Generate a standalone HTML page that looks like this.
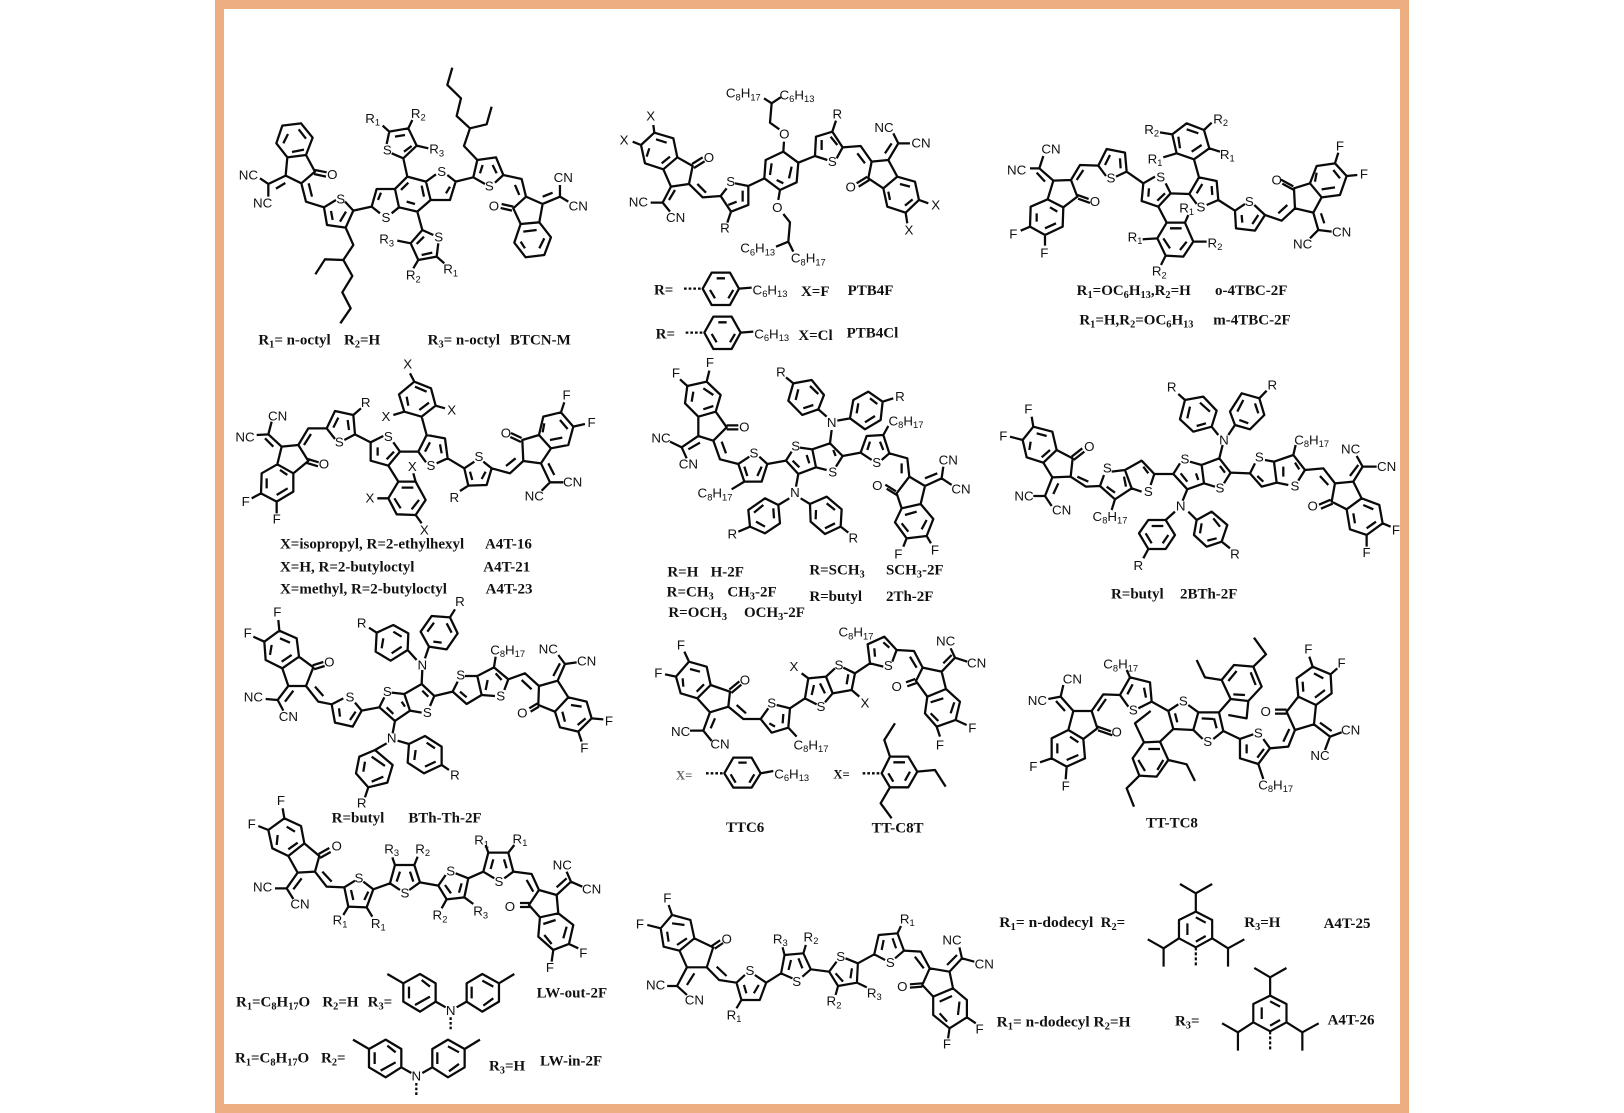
<!DOCTYPE html>
<html><head><meta charset="utf-8"><title>Molecules</title>
<style>
html,body{margin:0;padding:0;background:#fff}
svg{display:block}
path{fill:none;stroke:#0a0a0a;stroke-width:6.8;stroke-linejoin:round}
.d{stroke-dasharray:8 6}
.h path{stroke-width:2.2;vector-effect:non-scaling-stroke}
.h .d{stroke-dasharray:3 2}
text{fill:#111}
.t text,text.t{font-family:"Liberation Sans",sans-serif;font-size:40px;text-anchor:middle}
.u{font-size:28px}
.b{font-family:"Liberation Serif",serif;font-weight:bold;font-size:45px;text-anchor:start}
.b .u{font-size:31px}
</style></head><body>
<svg width="1624" height="1113" viewBox="0 0 1624 1113" xmlns="http://www.w3.org/2000/svg">
<rect width="1624" height="1113" fill="#fff"/>
<rect x="219.5" y="4.5" width="1185" height="1104" fill="none" stroke="#EDAE82" stroke-width="9"/>

<!-- BTCN-M -->
<g transform="translate(200 0) scale(.3333)">
<path d="M247 377L303 370L338 413L318 465L262 472L229 430ZM250 430L264 402M276 456L312 449M296 388L318 416M318 465L345 515L304 550L257 527L262 472M345 510L380 517M342 522L378 530M257 527L205 552M228 566L256 549M205 552L180 535M205 552L205 590M304 550L318 605L372 622M326 550L336 590M408 600L372 622L381 675L437 683L460 632L435 605M393 633L398 660M420 665L438 635M437 683L460 735L430 780L457 828L427 877L452 925L421 970M430 780L375 778L346 823M460 632L515 620M540 640L515 620L530 567L585 567L597 622L575 640M534 600L543 578M585 567L622 530L678 545L692 600L652 635L597 622M603 570L625 548M665 557L672 590M645 612L620 605M708 523L678 545M692 600L750 600L767 545L742 525M750 560L738 580M622 530L610 475L650 437L625 385L568 395L560 432M575 460L610 475M585 410L615 405M612 455L635 438M568 395L548 377M625 385L637 360M650 437L685 445M652 635L667 690L632 730L655 780L710 770L715 730M667 690L700 705M665 765L697 758M650 732L672 710M632 730L592 722M655 780L640 805M710 770L733 790M767 545L820 532L832 480L888 472L910 525L885 548M820 532L855 552M840 520L848 495M890 520L878 495M832 480L792 438L810 385L770 348L783 295L742 255L757 203M810 385L860 373L875 320M910 525L965 537L978 590M945 555L958 585M978 590L1028 612L1018 667L962 672L940 625L978 590M940 620L905 612M936 632L902 624M962 672L1018 667L1053 712L1033 765L977 772L943 728ZM970 695L1010 690M1033 715L1018 745M975 745L962 725M1028 612L1080 590M1028 590L1058 578M1080 590L1080 555M1080 590L1105 605"/>
<g class="t">
<text x="145" y="538">NC</text><text x="188" y="623">NC</text><text x="397" y="537">O</text><text x="422" y="611">S</text><text x="558" y="666">S</text><text x="725" y="528">S</text><text x="562" y="463">S</text><text x="716" y="725">S</text><text x="868" y="571">S</text><text x="882" y="631">O</text><text x="1090" y="546">CN</text><text x="1135" y="631">CN</text>
<text x="518" y="369">R<tspan class="u" dy="8">1</tspan></text><text x="655" y="354">R<tspan class="u" dy="8">2</tspan></text><text x="710" y="461">R<tspan class="u" dy="8">3</tspan></text><text x="560" y="731">R<tspan class="u" dy="8">3</tspan></text><text x="640" y="839">R<tspan class="u" dy="8">2</tspan></text><text x="752" y="821">R<tspan class="u" dy="8">1</tspan></text>
</g>
<text class="b" x="175" y="1033">R<tspan class="u" dy="9">1</tspan><tspan dy="-9">= n-octyl</tspan></text>
<text class="b" x="432" y="1033">R<tspan class="u" dy="9">2</tspan><tspan dy="-9">=H</tspan></text>
<text class="b" x="683" y="1033">R<tspan class="u" dy="9">3</tspan><tspan dy="-9">= n-octyl</tspan></text>
<text class="b" x="930" y="1033">BTCN-M</text>
</g>

<!-- PTB4F -->
<g transform="translate(620 60) scale(.3333)">
<path d="M103 218L160 235L172 292L130 328L75 310L63 255ZM108 238L140 248M150 290L125 310M80 290L88 265M103 218L100 195M63 255L38 245M172 292L218 318L207 372L153 380L130 328M216 312L248 292M222 324L254 304M153 380L128 428M147 420L165 390M128 428L92 428M128 428L150 455M207 372L248 412L302 408M232 372L258 398M320 385L302 408L333 455L385 435L385 378L345 370M368 392L368 425M325 435L350 425M333 455L322 488M385 378L433 355L480 390L530 367L535 308L490 275L437 300L433 355M455 310L450 345M515 320L507 355M470 360L490 370M490 275L492 245M478 208L450 188L455 130L482 112M455 130L432 115M480 390L475 420M490 462L510 487L505 545L520 575M505 545L468 560M535 308L585 288L588 230L637 215L668 262L650 295M585 288L622 300M605 270L605 240M652 255L632 230M637 215L648 182M668 262L722 258L755 305M712 280L735 310M755 305L805 300L832 350L790 385L745 355ZM742 350L710 370M748 360L716 380M805 300L835 250M795 280L815 250M835 250L820 220M835 250L870 250M832 350L885 365L897 420L857 458L802 440L790 385M840 372L870 380M878 418L855 437M810 420L805 395M897 420L925 430M857 458L862 490"/>
<path class="d" d="M192 686L248 686M197 818L253 818"/>
<path d="M248 686L275 638L330 638L357 686L330 735L275 735ZM290 655L315 655M340 690L325 715M270 690L285 715M357 686L395 683M253 818L280 770L335 770L362 818L335 867L280 867ZM295 787L320 787M345 822L330 847M275 822L290 847M362 818L400 815"/>
<g class="t">
<text x="92" y="181">X</text><text x="12" y="253">X</text><text x="267" y="306">O</text><text x="55" y="440">NC</text><text x="167" y="486">CN</text><text x="332" y="378">S</text><text x="315" y="518">R</text><text x="493" y="235">O</text><text x="472" y="456">O</text><text x="637" y="318">S</text><text x="652" y="176">R</text><text x="692" y="395">O</text><text x="792" y="216">NC</text><text x="903" y="263">CN</text><text x="947" y="448">X</text><text x="867" y="523">X</text>
<text x="370" y="113">C<tspan class="u" dy="8">8</tspan><tspan dy="-8">H</tspan><tspan class="u" dy="8">17</tspan></text>
<text x="531" y="118">C<tspan class="u" dy="8">6</tspan><tspan dy="-8">H</tspan><tspan class="u" dy="8">13</tspan></text>
<text x="413" y="578">C<tspan class="u" dy="8">6</tspan><tspan dy="-8">H</tspan><tspan class="u" dy="8">13</tspan></text>
<text x="565" y="608">C<tspan class="u" dy="8">8</tspan><tspan dy="-8">H</tspan><tspan class="u" dy="8">17</tspan></text>
<text x="450" y="703">C<tspan class="u" dy="8">6</tspan><tspan dy="-8">H</tspan><tspan class="u" dy="8">13</tspan></text>
<text x="455" y="835">C<tspan class="u" dy="8">6</tspan><tspan dy="-8">H</tspan><tspan class="u" dy="8">13</tspan></text>
</g>
<text class="b" x="102" y="703">R=</text><text class="b" x="543" y="708">X=F</text><text class="b" x="683" y="705">PTB4F</text>
<text class="b" x="107" y="835">R=</text><text class="b" x="535" y="840">X=Cl</text><text class="b" x="680" y="833">PTB4Cl</text>
</g>

<!-- o-4TBC -->
<g transform="translate(1000 100) scale(.3333)">
<path d="M160 242L213 240L232 290L190 322L143 298ZM143 298L190 322L188 380L135 405L90 380L92 320ZM110 340L110 365M135 385L168 370M150 322L172 335M230 284L266 297M234 296L270 309M90 380L62 392M135 405L135 437M160 242L118 205M135 245L110 218M118 205L90 205M118 205L130 168M213 240L240 195L295 197L318 228M230 240L250 210M348 230L380 215L375 158L320 147L295 197M315 195L330 165M362 205L360 175M380 215L430 250L465 230M497 250L512 280L475 320L425 303L430 250M447 265L445 290M495 280L472 302M512 280L568 282L590 312M620 315L655 300L650 243L597 232L568 282M590 280L607 252M637 285L635 258M597 232L582 178M582 178L628 145L612 90L560 70L517 103L530 160ZM575 155L605 135M595 100L560 88M535 110L540 145M612 90L635 68M517 103L480 97M628 145L660 155M530 160L490 172M475 320L500 368M500 368L555 368L580 425L550 470L497 467L472 415ZM510 385L545 385M560 425L540 450M510 445L490 415M555 368L565 345M472 415L428 418M580 425L620 425M497 467L483 495M655 300L705 332L735 312M763 315L795 345L765 392L708 385L705 332M725 345L727 368M775 345L757 372M795 345L845 362L885 325M835 340L862 315M885 325L940 338L965 292L930 250L882 265ZM880 259L843 239M884 271L847 251M930 250L965 292L1020 285L1040 228L1005 190L950 198ZM965 268L1005 262M1020 235L1000 210M950 218L945 245M1005 190L1015 158M1040 228L1072 225M940 338L955 390M963 340L973 370M955 390L995 395M955 390L930 415"/>
<g class="t">
<text x="285" y="318">O</text><text x="40" y="416">F</text><text x="133" y="473">F</text><text x="50" y="223">NC</text><text x="153" y="161">CN</text><text x="333" y="248">S</text><text x="482" y="245">S</text><text x="603" y="335">S</text><text x="748" y="318">S</text><text x="830" y="253">O</text><text x="1020" y="151">F</text><text x="1092" y="235">F</text><text x="1025" y="410">CN</text><text x="908" y="446">NC</text>
<text x="662" y="70">R<tspan class="u" dy="8">2</tspan></text><text x="455" y="102">R<tspan class="u" dy="8">2</tspan></text><text x="682" y="177">R<tspan class="u" dy="8">1</tspan></text><text x="465" y="190">R<tspan class="u" dy="8">1</tspan></text><text x="560" y="337">R<tspan class="u" dy="8">1</tspan></text><text x="405" y="424">R<tspan class="u" dy="8">1</tspan></text><text x="645" y="442">R<tspan class="u" dy="8">2</tspan></text><text x="478" y="527">R<tspan class="u" dy="8">2</tspan></text>
</g>
<text class="b" x="230" y="585">R<tspan class="u" dy="9">1</tspan><tspan dy="-9">=OC</tspan><tspan class="u" dy="9">6</tspan><tspan dy="-9">H</tspan><tspan class="u" dy="9">13</tspan><tspan dy="-9">,R</tspan><tspan class="u" dy="9">2</tspan><tspan dy="-9">=H</tspan></text>
<text class="b" x="645" y="585">o-4TBC-2F</text>
<text class="b" x="238" y="673">R<tspan class="u" dy="9">1</tspan><tspan dy="-9">=H,R</tspan><tspan class="u" dy="9">2</tspan><tspan dy="-9">=OC</tspan><tspan class="u" dy="9">6</tspan><tspan dy="-9">H</tspan><tspan class="u" dy="9">13</tspan></text>
<text class="b" x="640" y="673">m-4TBC-2F</text>
</g>

<!-- A4T-16 -->
<g transform="translate(225 355) scale(.3333)">
<path d="M170 275L220 270L250 318L205 355L157 328ZM157 328L205 355L205 410L155 440L108 415L110 355ZM125 370L125 400M155 420L188 400M165 345L187 360M248 312L281 322M246 324L279 334M108 415L80 430M155 440L155 475M170 275L130 238M145 275L120 250M130 238L95 240M130 238L140 200M220 270L250 220L305 220L330 252M237 270L258 237M358 255L390 238L385 180L330 168L305 220M325 218L340 188M372 225L368 195M385 180L408 160M390 238L437 262L475 243M505 262L525 290L490 332L437 317L437 262M458 277L458 302M507 290L485 313M525 290L580 290L603 322M635 325L668 310L660 250L605 240L580 290M600 290L615 262M650 295L645 268M605 240L590 185M590 185L632 152L618 100L568 80L522 118L538 170ZM583 165L612 143M605 110L570 95M545 125L550 152M568 80L555 55M632 152L660 160M538 170L505 180M490 332L520 380M520 380L572 380L602 435L572 480L515 478L490 430ZM530 398L565 398M582 435L560 463M527 460L508 430M572 380L565 355M490 430L457 430M572 480L590 505M668 310L718 340L748 320M775 320L800 340L785 390L730 392L718 340M735 350L742 375M782 350L770 372M730 392L705 408M800 340L855 355L895 318M843 333L872 310M895 318L948 325L978 280L942 240L892 255ZM890 249L858 234M888 261L856 246M942 240L978 280L1030 270L1045 215L1008 172L955 185ZM975 255L1012 248M1028 222L1005 195M958 205L953 232M1008 172L1018 142M1045 215L1080 207M948 325L975 382M970 325L988 360M975 382L1015 382M975 382L950 407"/>
<g class="t">
<text x="297" y="341">O</text><text x="62" y="453">F</text><text x="155" y="505">F</text><text x="60" y="260">NC</text><text x="158" y="196">CN</text><text x="343" y="275">S</text><text x="422" y="156">R</text><text x="490" y="258">S</text><text x="618" y="345">S</text><text x="548" y="41">X</text><text x="680" y="178">X</text><text x="483" y="198">X</text><text x="562" y="348">X</text><text x="435" y="443">X</text><text x="598" y="538">X</text><text x="762" y="318">S</text><text x="688" y="441">R</text><text x="843" y="248">O</text><text x="1025" y="133">F</text><text x="1100" y="216">F</text><text x="1043" y="395">CN</text><text x="928" y="436">NC</text>
</g>
<text class="b" x="165" y="581">X=isopropyl, R=2-ethylhexyl</text><text class="b" x="780" y="581">A4T-16</text>
<text class="b" x="165" y="650">X=H, R=2-butyloctyl</text><text class="b" x="775" y="650">A4T-21</text>
<text class="b" x="165" y="716">X=methyl, R=2-butyloctyl</text><text class="b" x="782" y="716">A4T-23</text>
</g>

<!-- H-2F family -->
<g transform="translate(650 350) scale(.3333)">
<path d="M112 108L170 95L212 135L197 185L145 200L105 160ZM130 125L125 155M160 178L190 168M160 115L190 135M170 95L178 62M112 108L90 88M197 185L230 232L190 272L145 258L145 200M230 226L265 226M230 238L265 238M145 258L95 292M150 278L115 298M95 292L60 275M95 292L110 325M190 272L210 328L265 342L298 320M215 275L228 310M328 320L352 342L335 395L283 395L265 342M283 350L292 378M335 350L322 378M283 395L245 418M352 342L408 332L425 305M450 293L487 298L498 352L445 372L408 332M428 332L448 352M470 315L478 340M487 298L540 280L578 318L558 350M530 360L498 352M550 300L557 318M445 372L438 410M418 445L385 465M385 465L345 445L295 480L300 530L345 550L390 520ZM340 465L312 488M318 515L345 530M372 505L370 475M300 530L265 545M452 445L480 462M480 462L530 440L575 478L572 530L525 552L482 515ZM530 460L555 480M555 520L525 535M497 508L498 480M572 530L595 548M540 280L545 240M530 200L505 178M505 178L457 195L415 152L430 100L485 90L522 135ZM437 150L445 118M480 108L505 132M490 165L460 175M430 100L408 82M562 212L600 205M600 205L610 150L655 125L698 155L692 210L645 238ZM620 190L625 160M660 145L682 162M675 198L645 217M698 155L730 145M578 318L632 308L665 330M695 330L718 310L700 255L650 258L632 308M652 300L660 275M700 300L690 275M700 255L715 228M718 310L772 325L778 380M755 340L755 370M778 380L825 408L812 462L755 475L740 430ZM738 424L706 404M742 436L710 416M755 475L812 462L850 507L830 558L770 565L735 517ZM765 495L800 485M830 510L815 538M775 545L755 520M770 565L760 590M830 558L843 580M825 408L875 385M825 385L862 370M875 385L880 350M875 385L905 405"/>
<g class="t">
<text x="180" y="51">F</text><text x="78" y="83">F</text><text x="283" y="245">O</text><text x="33" y="278">NC</text><text x="115" y="355">CN</text><text x="312" y="323">S</text><text x="437" y="301">S</text><text x="548" y="380">S</text><text x="435" y="441">N</text><text x="247" y="565">R</text><text x="610" y="578">R</text><text x="545" y="231">N</text><text x="393" y="80">R</text><text x="750" y="153">R</text><text x="680" y="351">S</text><text x="682" y="420">O</text><text x="745" y="625">F</text><text x="855" y="613">F</text><text x="895" y="343">CN</text><text x="933" y="431">CN</text>
<text x="195" y="443">C<tspan class="u" dy="8">8</tspan><tspan dy="-8">H</tspan><tspan class="u" dy="8">17</tspan></text>
<text x="768" y="226">C<tspan class="u" dy="8">8</tspan><tspan dy="-8">H</tspan><tspan class="u" dy="8">17</tspan></text>
</g>
<text class="b" x="52" y="680">R=H</text><text class="b" x="182" y="680">H-2F</text>
<text class="b" x="50" y="740">R=CH<tspan class="u" dy="9">3</tspan></text><text class="b" x="232" y="740">CH<tspan class="u" dy="9">3</tspan><tspan dy="-9">-2F</tspan></text>
<text class="b" x="55" y="801">R=OCH<tspan class="u" dy="9">3</tspan></text><text class="b" x="282" y="801">OCH<tspan class="u" dy="9">3</tspan><tspan dy="-9">-2F</tspan></text>
<text class="b" x="478" y="673">R=SCH<tspan class="u" dy="9">3</tspan></text><text class="b" x="708" y="673">SCH<tspan class="u" dy="9">3</tspan><tspan dy="-9">-2F</tspan></text>
<text class="b" x="478" y="753">R=butyl</text><text class="b" x="708" y="753">2Th-2F</text>
</g>

<!-- 2BTh-2F -->
<g transform="translate(1000 370) scale(.3333)">
<path d="M100 170L157 185L170 240L130 278L80 262L68 210ZM110 190L140 198M150 240L125 262M88 240L92 215M100 170L95 140M68 210L30 200M170 240L218 265L212 320L157 322L130 278M215 260L247 235M221 270L253 245M157 322L135 378M175 340L160 372M135 378L100 378M135 378L155 408M212 320L258 350L300 348L312 315M232 320L265 335M335 305L375 300L395 355L345 388L300 348M320 350L345 368M378 350L372 320M375 300L425 272L463 312L452 345M425 365L395 355M430 290L445 310M345 388L335 420M463 312L520 312L540 280M570 275L605 285L612 340L562 358L520 312M542 310L562 335M588 310L595 330M605 285L658 265L692 308L672 340M645 350L612 340M660 288L675 308M658 265L668 225M655 195L635 170M635 170L580 185L540 148L555 90L610 80L650 122ZM562 145L570 110M600 98L630 125M618 160L590 168M555 90L535 72M685 195L705 165M705 165L690 125L725 70L778 85L793 135L750 178ZM712 125L730 90M765 100L775 130M745 160L718 150M778 85L800 62M562 358L548 392M525 425L497 450M497 450L445 450L417 490L445 537L497 537L525 495ZM455 468L490 468M505 495L488 520M455 520L437 490M445 537L430 565M565 425L590 450M590 450L635 425L682 465L665 515L620 530L582 495ZM640 445L660 470M650 505L622 512M600 490L605 460M665 515L690 535M692 308L750 310L765 280M795 270L822 275L830 338L785 350L750 310M772 318L790 335M822 275L880 255L915 300L895 332M865 345L830 338M850 290L850 320M885 278L898 298M880 255L887 225M915 300L970 295L1005 340M960 318L985 345M1005 340L1060 335L1085 385L1040 418L995 395ZM992 389L957 404M998 401L963 416M1060 335L1088 290M1050 318L1075 285M1088 290L1070 258M1088 290L1130 290M1040 418L1085 385L1138 405L1148 460L1100 495L1050 478ZM1090 405L1120 418M1128 455L1100 475M1065 460L1060 430M1148 460L1172 470M1100 495L1100 530"/>
<g class="t">
<text x="85" y="131">F</text><text x="10" y="211">F</text><text x="268" y="243">O</text><text x="72" y="391">NC</text><text x="185" y="433">CN</text><text x="322" y="308">S</text><text x="445" y="378">S</text><text x="555" y="281">S</text><text x="660" y="368">S</text><text x="672" y="223">N</text><text x="515" y="65">R</text><text x="817" y="58">R</text><text x="542" y="421">N</text><text x="415" y="600">R</text><text x="705" y="566">R</text><text x="778" y="275">S</text><text x="885" y="361">S</text><text x="938" y="421">O</text><text x="1052" y="251">NC</text><text x="1160" y="303">CN</text><text x="1188" y="493">F</text><text x="1100" y="561">F</text>
<text x="330" y="453">C<tspan class="u" dy="8">8</tspan><tspan dy="-8">H</tspan><tspan class="u" dy="8">17</tspan></text>
<text x="935" y="223">C<tspan class="u" dy="8">8</tspan><tspan dy="-8">H</tspan><tspan class="u" dy="8">17</tspan></text>
</g>
<text class="b" x="333" y="685">R=butyl</text><text class="b" x="540" y="685">2BTh-2F</text>
</g>

<!-- BTh-Th-2F -->
<g transform="translate(225 590) scale(.3333)">
<path d="M118 155L163 122L215 145L222 200L172 235L122 210ZM135 195L140 165M165 145L195 158M200 195L170 215M163 122L160 90M118 155L85 140M222 200L265 232L243 288L190 288L172 235M263 226L295 216M267 238L299 228M190 288L158 330M180 335L205 302M158 330L122 327M158 330L175 362M243 288L280 335L320 343L355 325M270 290L295 318M390 338L410 362L383 410L330 398L320 343M342 355L345 380M392 365L375 390M410 362L463 352L478 322M500 308L538 312L555 362L510 393L463 352M485 352L505 372M530 335L540 350M538 312L590 282L628 318L615 348M590 368L555 362M592 302L610 320M590 282L592 240M575 210L548 180M548 180L497 212L452 185L455 128L505 105L550 130ZM470 175L475 145M505 125L530 140M530 170L500 190M455 128L432 113M600 205L612 170M612 170L587 125L620 78L675 82L698 130L665 178ZM607 125L627 98M665 100L680 128M650 158L625 155M675 82L690 58M510 393L503 430M485 460L450 480M450 480L503 525L487 578L430 592L393 550L403 500ZM440 500L480 528M475 560L440 575M415 545L420 515M430 592L420 622M518 452L552 462M552 462L600 438L650 470L650 525L597 550L548 518ZM605 458L630 475M632 515L600 530M568 510L572 480M650 525L672 540M628 318L683 305L698 275M720 258L757 258L770 315L725 342L683 305M705 305L725 322M757 258L807 232L850 268L838 300M810 318L770 315M788 270L782 300M812 250L830 270M807 232L812 200M850 268L900 250L942 288M890 270L920 298M942 288L998 272L1030 322L990 365L940 345ZM938 340L913 355M942 350L917 365M998 272L1020 222M985 258L1005 220M1020 222L1000 195M1020 222L1055 217M990 365L1030 322L1085 335L1100 385L1060 425L1005 412ZM1038 345L1070 350M1082 385L1058 405M1020 395L1012 365M1100 385L1135 388M1060 425L1070 455"/>
<g class="t">
<text x="157" y="80">F</text><text x="68" y="143">F</text><text x="313" y="230">O</text><text x="85" y="335">NC</text><text x="190" y="393">CN</text><text x="375" y="335">S</text><text x="487" y="318">S</text><text x="607" y="381">S</text><text x="592" y="238">N</text><text x="410" y="113">R</text><text x="705" y="48">R</text><text x="500" y="458">N</text><text x="410" y="653">R</text><text x="690" y="568">R</text><text x="707" y="268">S</text><text x="827" y="331">S</text><text x="892" y="383">O</text><text x="970" y="191">NC</text><text x="1085" y="226">CN</text><text x="1152" y="406">F</text><text x="1078" y="488">F</text>
<text x="848" y="193">C<tspan class="u" dy="8">8</tspan><tspan dy="-8">H</tspan><tspan class="u" dy="8">17</tspan></text>
</g>
<text class="b" x="320" y="698">R=butyl</text><text class="b" x="550" y="698">BTh-Th-2F</text>
</g>

<!-- TTC6 -->
<g transform="translate(640 615) scale(.3333)">
<path d="M147 140L200 155L212 210L172 250L122 235L108 185ZM150 162L180 170M192 208L170 230M130 215L128 190M147 140L133 110M108 185L75 178M212 210L270 230L265 275L210 292L172 250M268 224L298 199M274 234L304 209M210 292L190 347M225 310L212 340M190 347L150 347M190 347L215 378M265 275L310 312L362 312L385 280M290 270L318 295M410 270L450 280L445 338L395 353L362 312M388 325L405 335M428 325L430 297M445 338L470 365M450 280L495 250L530 268M555 262L578 235L558 185L505 190L495 250M515 240L522 210M540 205L555 235M505 190L485 175M558 185L585 160M610 158L645 175L635 225L578 235M625 178L620 208M635 225L658 245M645 175L690 145L730 155M757 140L770 105L733 65L683 88L690 145M705 125L703 100M748 98L730 82M770 105L822 108L848 158M810 125L830 158M848 158L905 170L918 222L862 245L828 198ZM826 192L798 202M830 204L802 214M905 170L945 128M910 145L935 120M945 128L932 100M945 128L982 140M862 245L918 222L960 260L947 315L890 335L855 295ZM872 262L910 250M943 262L932 295M895 318L872 295M947 315L980 330M890 335L900 365M253 475L280 428L335 428L362 475L335 518L280 518ZM295 443L320 443M343 478L328 503M272 478L287 503M362 475L400 468M725 475L750 425L805 425L832 470L805 517L750 517ZM760 442L795 442M810 470L795 497M760 500L745 475M750 425L733 375L765 325M832 470L885 465L917 515M750 517L722 565L755 610"/>
<path class="d" d="M198 475L253 475M668 475L725 475"/>
<g class="t">
<text x="123" y="103">F</text><text x="55" y="188">F</text><text x="315" y="208">O</text><text x="122" y="363">NC</text><text x="240" y="401">CN</text><text x="395" y="278">S</text><text x="543" y="288">S</text><text x="597" y="163">S</text><text x="745" y="165">S</text><text x="462" y="168">X</text><text x="675" y="278">X</text><text x="770" y="228">O</text><text x="917" y="91">NC</text><text x="1010" y="158">CN</text><text x="997" y="353">F</text><text x="900" y="403">F</text>
<text x="513" y="403">C<tspan class="u" dy="8">8</tspan><tspan dy="-8">H</tspan><tspan class="u" dy="8">17</tspan></text>
<text x="648" y="65">C<tspan class="u" dy="8">8</tspan><tspan dy="-8">H</tspan><tspan class="u" dy="8">17</tspan></text>
<text x="455" y="490">C<tspan class="u" dy="8">6</tspan><tspan dy="-8">H</tspan><tspan class="u" dy="8">13</tspan></text>
</g>
<text class="b" x="108" y="493" style="fill:#666;font-size:38px">X=</text><text class="b" x="580" y="491" style="font-size:38px">X=</text>
<text class="b" x="258" y="651">TTC6</text><text class="b" x="695" y="653">TT-C8T</text>
</g>

<!-- TT-TC8 -->
<g transform="translate(1020 625) scale(.3333)">
<path d="M160 258L215 258L232 310L190 342L145 315ZM145 315L190 342L195 400L140 425L95 400L95 340ZM112 355L112 385M140 405L175 390M150 335L175 352M230 304L273 319M234 316L277 331M95 400L60 412M140 425L137 463M160 258L122 215M135 258L108 228M122 215L85 222M122 215L130 180M215 258L250 208L300 210L325 245M233 258L258 222M355 250L395 230L390 172L330 157L300 210M322 208L338 178M378 218L372 188M330 157L320 135M395 230L445 258L475 238M505 240L535 262L520 315L460 312L445 258M465 265L472 292M535 262L597 262L610 318L580 342M548 342L520 315M545 280L580 282M582 280L590 310M597 262L632 222M632 222L605 165L642 120L700 125L725 185L685 228ZM625 168L650 138M692 142L707 180M675 210L640 208M605 165L555 157L530 105M700 125L738 88L702 38M685 228L680 280L625 270M460 312L420 350M420 350L372 352L338 400L358 452L410 455L445 405ZM420 372L385 372M355 405L375 438M412 435L430 405M372 352L345 295L392 258M445 405L500 418L525 468M358 452L320 490L342 545M610 318L660 342L700 328M730 342L750 370L715 417L660 400L660 342M680 358L680 385M732 372L712 398M715 417L730 462M750 370L805 365L825 315M790 350L808 312M825 315L882 298L888 240L835 215L800 260ZM800 254L765 254M800 266L765 266M835 215L830 160L878 125L932 148L935 205L888 240M850 200L848 170M882 145L910 160M915 195L885 218M878 125L868 95M932 148L952 130M882 298L930 335M900 293L935 318M930 335L965 322M930 335L915 375"/>
<g class="t">
<text x="290" y="335">O</text><text x="40" y="438">F</text><text x="137" y="496">F</text><text x="52" y="240">NC</text><text x="157" y="175">CN</text><text x="340" y="268">S</text><text x="490" y="241">S</text><text x="563" y="363">S</text><text x="715" y="338">S</text><text x="737" y="273">O</text><text x="865" y="85">F</text><text x="965" y="128">F</text><text x="992" y="328">CN</text><text x="900" y="405">NC</text>
<text x="302" y="131">C<tspan class="u" dy="8">8</tspan><tspan dy="-8">H</tspan><tspan class="u" dy="8">17</tspan></text>
<text x="767" y="493">C<tspan class="u" dy="8">8</tspan><tspan dy="-8">H</tspan><tspan class="u" dy="8">17</tspan></text>
</g>
<text class="b" x="378" y="608">TT-TC8</text>
</g>

<!-- LW -->
<g transform="translate(225 800) scale(.3333)">
<path d="M130 90L178 55L228 78L238 130L190 168L142 145ZM155 135L158 105M185 80L210 95M218 128L190 148M178 55L173 25M130 90L100 78M238 130L283 168L270 215L218 218L190 168M281 162L313 144M285 174L317 156M218 218L185 265M230 235L205 268M185 265L150 265M185 265L205 297M270 215L305 260L358 262L390 242M292 215L320 245M415 245L445 268L425 322L370 320L358 262M378 270L385 300M430 275L418 300M370 320L355 345M425 322L442 350M445 268L495 250L525 270M553 270L585 247L568 195L510 195L495 250M515 245L525 215M565 245L555 215M510 195L502 172M568 195L578 170M585 247L640 257L662 225M692 220L730 235L718 292L665 298L640 257M660 255L678 280M710 250L702 278M665 298L650 325M718 292L745 312M730 235L775 215L808 235M838 235L865 215L850 158L790 158L775 215M797 207L805 178M845 205L837 178M790 158L782 135M850 158L868 135M865 215L920 222L942 270M905 240L925 275M942 270L995 285L1000 340L945 352L912 315ZM915 309L885 309M915 321L885 321M995 285L1038 245M995 262L1025 235M1038 245L1025 215M1038 245L1072 260M945 352L1000 340L1045 375L1032 432L985 450L940 410ZM955 372L992 360M1025 380L1015 415M980 432L958 405M1032 432L1060 445M985 450L980 485"/>
<path d="M585 522L632 550L632 605L585 635L535 605L535 550ZM552 560L552 595M570 615L615 590M590 540L615 560M535 550L487 522M632 605L662 622M695 622L725 605M725 605L725 550L772 522L822 550L822 605L772 635ZM740 560L740 595M772 542L805 560M805 595L775 617M822 550L868 522"/>
<path class="d" d="M677 652L677 692"/>
<g transform="translate(-103 197)">
<path d="M585 522L632 550L632 605L585 635L535 605L535 550ZM552 560L552 595M570 615L615 590M590 540L615 560M535 550L487 522M632 605L662 622M695 622L725 605M725 605L725 550L772 522L822 550L822 605L772 635ZM740 560L740 595M772 542L805 560M805 595L775 617M822 550L868 522"/>
<path class="d" d="M677 652L677 692"/>
<text class="t" x="677" y="645">N</text>
</g>
<g class="t">
<text x="168" y="15">F</text><text x="80" y="85">F</text><text x="335" y="151">O</text><text x="113" y="275">NC</text><text x="225" y="325">CN</text><text x="402" y="248">S</text><text x="540" y="293">S</text><text x="677" y="226">S</text><text x="822" y="258">S</text><text x="855" y="333">O</text><text x="1012" y="208">NC</text><text x="1100" y="280">CN</text><text x="1075" y="473">F</text><text x="975" y="516">F</text><text x="677" y="645">N</text>
<text x="345" y="374">R<tspan class="u" dy="8">1</tspan></text><text x="460" y="384">R<tspan class="u" dy="8">1</tspan></text><text x="500" y="160">R<tspan class="u" dy="8">3</tspan></text><text x="593" y="160">R<tspan class="u" dy="8">2</tspan></text><text x="645" y="359">R<tspan class="u" dy="8">2</tspan></text><text x="767" y="347">R<tspan class="u" dy="8">3</tspan></text><text x="770" y="134">R<tspan class="u" dy="8">1</tspan></text><text x="885" y="130">R<tspan class="u" dy="8">1</tspan></text>
</g>
<text class="b" x="33" y="620">R<tspan class="u" dy="9">1</tspan><tspan dy="-9">=C</tspan><tspan class="u" dy="9">8</tspan><tspan dy="-9">H</tspan><tspan class="u" dy="9">17</tspan><tspan dy="-9">O</tspan></text><text class="b" x="292" y="620">R<tspan class="u" dy="9">2</tspan><tspan dy="-9">=H</tspan></text><text class="b" x="428" y="620">R<tspan class="u" dy="9">3</tspan><tspan dy="-9">=</tspan></text>
<text class="b" x="935" y="592">LW-out-2F</text>
<text class="b" x="30" y="787">R<tspan class="u" dy="9">1</tspan><tspan dy="-9">=C</tspan><tspan class="u" dy="9">8</tspan><tspan dy="-9">H</tspan><tspan class="u" dy="9">17</tspan><tspan dy="-9">O</tspan></text><text class="b" x="288" y="787">R<tspan class="u" dy="9">2</tspan><tspan dy="-9">=</tspan></text>
<text class="b" x="792" y="812">R<tspan class="u" dy="9">3</tspan><tspan dy="-9">=H</tspan></text><text class="b" x="945" y="797">LW-in-2F</text>
</g>

<!-- A4T-25/26 bonds -->
<g class="h" transform="translate(625 860) scale(.4955 .3333)">
<path d="M95 165L132 180L140 235L110 272L78 260L72 205ZM95 190L120 195M125 235L105 255M88 245L85 215M95 165L88 135M72 205L45 195M140 235L178 262L165 322L125 322L110 272M175 258L192 241M181 266L198 249M125 322L105 378M140 340L125 375M105 378L85 378M105 378L125 405M165 322L190 360L225 368L242 345M185 320L205 348M262 345L285 368L272 420L235 420L225 368M240 375L245 400M270 375L260 400M235 420L225 445M285 368L315 340L338 355M358 350L375 328L360 280L322 285L315 340M330 330L335 300M358 325L350 295M322 285L318 262M360 280L365 255M375 328L412 335L427 305M445 295L470 310L468 368L430 378L412 335M425 340L440 365M458 325L455 355M430 378L425 405M468 368L488 382M470 310L503 283L525 300M545 295L563 272L550 220L512 225L503 283M518 270L522 240M547 265L540 235M550 220L557 198M563 272L597 275L615 325M585 290L603 325M615 325L655 335L662 385L622 410L600 375ZM600 370L575 373M600 380L575 383M655 335L680 295M650 315L670 285M680 295L675 262M680 295L705 305M622 410L662 385L690 420L690 472L655 505L622 465ZM635 425L660 408M675 425L672 465M650 485L635 460M690 472L708 490M655 505L652 535"/>
<path d="M1152 155L1185 180L1185 235L1152 262L1118 235L1118 180ZM1135 190L1135 225M1152 172L1172 188M1172 228L1152 245M1152 155L1152 100M1120 72L1152 100L1185 72M1118 235L1087 265M1055 238L1087 265L1087 320M1185 235L1217 265M1250 238L1217 265L1217 320"/>
<path class="d" d="M1152 262L1152 322"/>
<g transform="translate(150 252)">
<path d="M1152 155L1185 180L1185 235L1152 262L1118 235L1118 180ZM1135 190L1135 225M1152 172L1172 188M1172 228L1152 245M1152 155L1152 100M1120 72L1152 100L1185 72M1118 235L1087 265M1055 238L1087 265L1087 320M1185 235L1217 265M1250 238L1217 265L1217 320"/>
<path class="d" d="M1152 262L1152 322"/>
</g>
</g>
<!-- A4T-25/26 text -->
<g transform="translate(625 860) scale(.3333)">
<g class="t">
<text x="127" y="128">F</text><text x="45" y="205">F</text><text x="305" y="250">O</text><text x="92" y="388">NC</text><text x="208" y="433">CN</text><text x="375" y="345">S</text><text x="515" y="378">S</text><text x="647" y="303">S</text><text x="796" y="321">S</text><text x="832" y="393">O</text><text x="981" y="253">NC</text><text x="1078" y="325">CN</text><text x="1064" y="520">F</text><text x="966" y="565">F</text>
<text x="327" y="478">R<tspan class="u" dy="8">1</tspan></text><text x="466" y="250">R<tspan class="u" dy="8">3</tspan></text><text x="558" y="244">R<tspan class="u" dy="8">2</tspan></text><text x="627" y="437">R<tspan class="u" dy="8">2</tspan></text><text x="748" y="412">R<tspan class="u" dy="8">3</tspan></text><text x="847" y="190">R<tspan class="u" dy="8">1</tspan></text>
</g>
<text class="b" x="1123" y="201" textLength="282" lengthAdjust="spacingAndGlyphs">R<tspan class="u" dy="9">1</tspan><tspan dy="-9">= n-dodecyl</tspan></text>
<text class="b" x="1427" y="201">R<tspan class="u" dy="9">2</tspan><tspan dy="-9">=</tspan></text>
<text class="b" x="1858" y="201">R<tspan class="u" dy="9">3</tspan><tspan dy="-9">=H</tspan></text>
<text class="b" x="2096" y="204">A4T-25</text>
<text class="b" x="1115" y="499" textLength="402" lengthAdjust="spacingAndGlyphs">R<tspan class="u" dy="9">1</tspan><tspan dy="-9">= n-dodecyl R</tspan><tspan class="u" dy="9">2</tspan><tspan dy="-9">=H</tspan></text>
<text class="b" x="1650" y="496">R<tspan class="u" dy="9">3</tspan><tspan dy="-9">=</tspan></text>
<text class="b" x="2108" y="494">A4T-26</text>
</g>
</svg>
</body></html>
